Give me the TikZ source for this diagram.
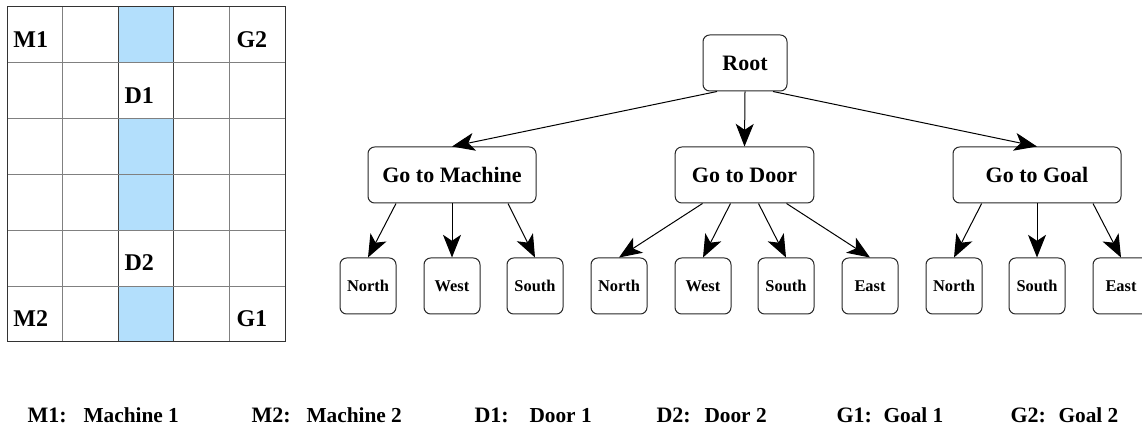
\documentclass[tikz,border=0pt]{standalone}
\usepackage{fontspec}
\setmainfont{Liberation Serif}
\usetikzlibrary{arrows.meta}
\definecolor{doorblue}{HTML}{B3DFFC}
\definecolor{gridgray}{HTML}{808080}

\begin{document}
\begin{tikzpicture}[x=0.75pt,y=-0.75pt, line width=0.75pt,
  task/.style={draw=black!85, rounded corners=5pt, inner sep=0pt, minimum height=42pt,
    font=\bfseries\fontsize{16.5}{18}\selectfont},
  act/.style={task, minimum width=42pt, font=\bfseries\fontsize{12.3}{14}\selectfont},
  cell/.style={anchor=base west, inner sep=0pt, font=\bfseries\fontsize{18}{20}\selectfont},
  key/.style={anchor=base west, inner sep=0pt, font=\bfseries\fontsize{16.5}{18}\selectfont},
  val/.style={anchor=base west, inner sep=0pt, font=\bfseries\fontsize{16}{18}\selectfont},
  >={Stealth[length=17pt,width=13.5pt,inset=4.5pt]}]
\useasboundingbox (0,0) rectangle (1142,427);

 % grid world
 \foreach \r in {0,2,3,5}
   \fill[doorblue] (118.2,{7+55.83*\r}) rectangle (173.8,{7+55.83*(\r+1)});
 \foreach \i in {1,4}
   \draw[gridgray] ({7+55.6*\i},7) -- ({7+55.6*\i},342);
 \foreach \i in {2,3}
   \draw[black!75] ({7+55.6*\i},7) -- ({7+55.6*\i},342);
 \foreach \j in {1,...,5}
   \draw[gridgray] (7,{7+55.83*\j}) -- (285,{7+55.83*\j});
 \draw[black!80] (7,7) rectangle (285,342);

 \node[cell] (m1) at (13,48)  {M1};
 \node[cell] (g2) at (236,48) {G2};
 \node[cell] (d1) at (124,104) {D1};
 \node[cell] (d2) at (124,271) {D2};
 \node[cell] (m2) at (13,327)  {M2};
 \node[cell] (g1) at (236,327) {G1};

 % task tree
 \node[task, minimum width=63pt]  (root) at (745,63)   {Root};
 \node[task, minimum width=126pt] (mach) at (452,175)  {Go to Machine};
 \node[task, minimum width=104pt] (door) at (744.5,175) {Go to Door};
 \node[task, minimum width=126pt] (goal) at (1037,175) {Go to Goal};

 \node[act] (mn) at (368,286)  {North};
 \node[act] (mw) at (452,286)  {West};
 \node[act] (ms) at (535,286)  {South};
 \node[act] (dn) at (619,286)  {North};
 \node[act] (dw) at (703,286)  {West};
 \node[act] (ds) at (786,286)  {South};
 \node[act] (de) at (870,286)  {East};
 \node[act] (gn) at (954,286)  {North};
 \node[act] (gs) at (1037,286) {South};
 \node[act] (ge) at (1121,286) {East};

 \draw[->] ([xshift=-21pt]root.south) -- (mach.north);
 \draw[->] (root.south) -- (door.north);
 \draw[->] ([xshift=21pt]root.south) -- (goal.north);

 \draw[->] ([xshift=-42pt]mach.south) -- (mn.north);
 \draw[->] (mach.south) -- (mw.north);
 \draw[->] ([xshift=42pt]mach.south) -- (ms.north);

 \draw[->] ([xshift=-31.5pt]door.south) -- (dn.north);
 \draw[->] ([xshift=-10.5pt]door.south) -- (dw.north);
 \draw[->] ([xshift=10.5pt]door.south) -- (ds.north);
 \draw[->] ([xshift=31.5pt]door.south) -- (de.north);

 \draw[->] ([xshift=-41.5pt]goal.south) -- (gn.north);
 \draw[->] (goal.south) -- (gs.north);
 \draw[->] ([xshift=42pt]goal.south) -- (ge.north);

 % legend
 \node[key] (km1) at (27,422)   {M1:};
 \node[val] (vm1) at (83,422)   {Machine 1};
 \node[key] (km2) at (251,422)  {M2:};
 \node[val] (vm2) at (306,422)  {Machine 2};
 \node[key] (kd1) at (474,422)  {D1:};
 \node[val] (vd1) at (529,422)  {Door 1};
 \node[key] (kd2) at (656,422)  {D2:};
 \node[val] (vd2) at (704,422)  {Door 2};
 \node[key] (kg1) at (836,422)  {G1:};
 \node[val] (vg1) at (883,422)  {Goal 1};
 \node[key] (kg2) at (1010,422) {G2:};
 \node[val] (vg2) at (1058,422) {Goal 2};
\end{tikzpicture}
\end{document}
